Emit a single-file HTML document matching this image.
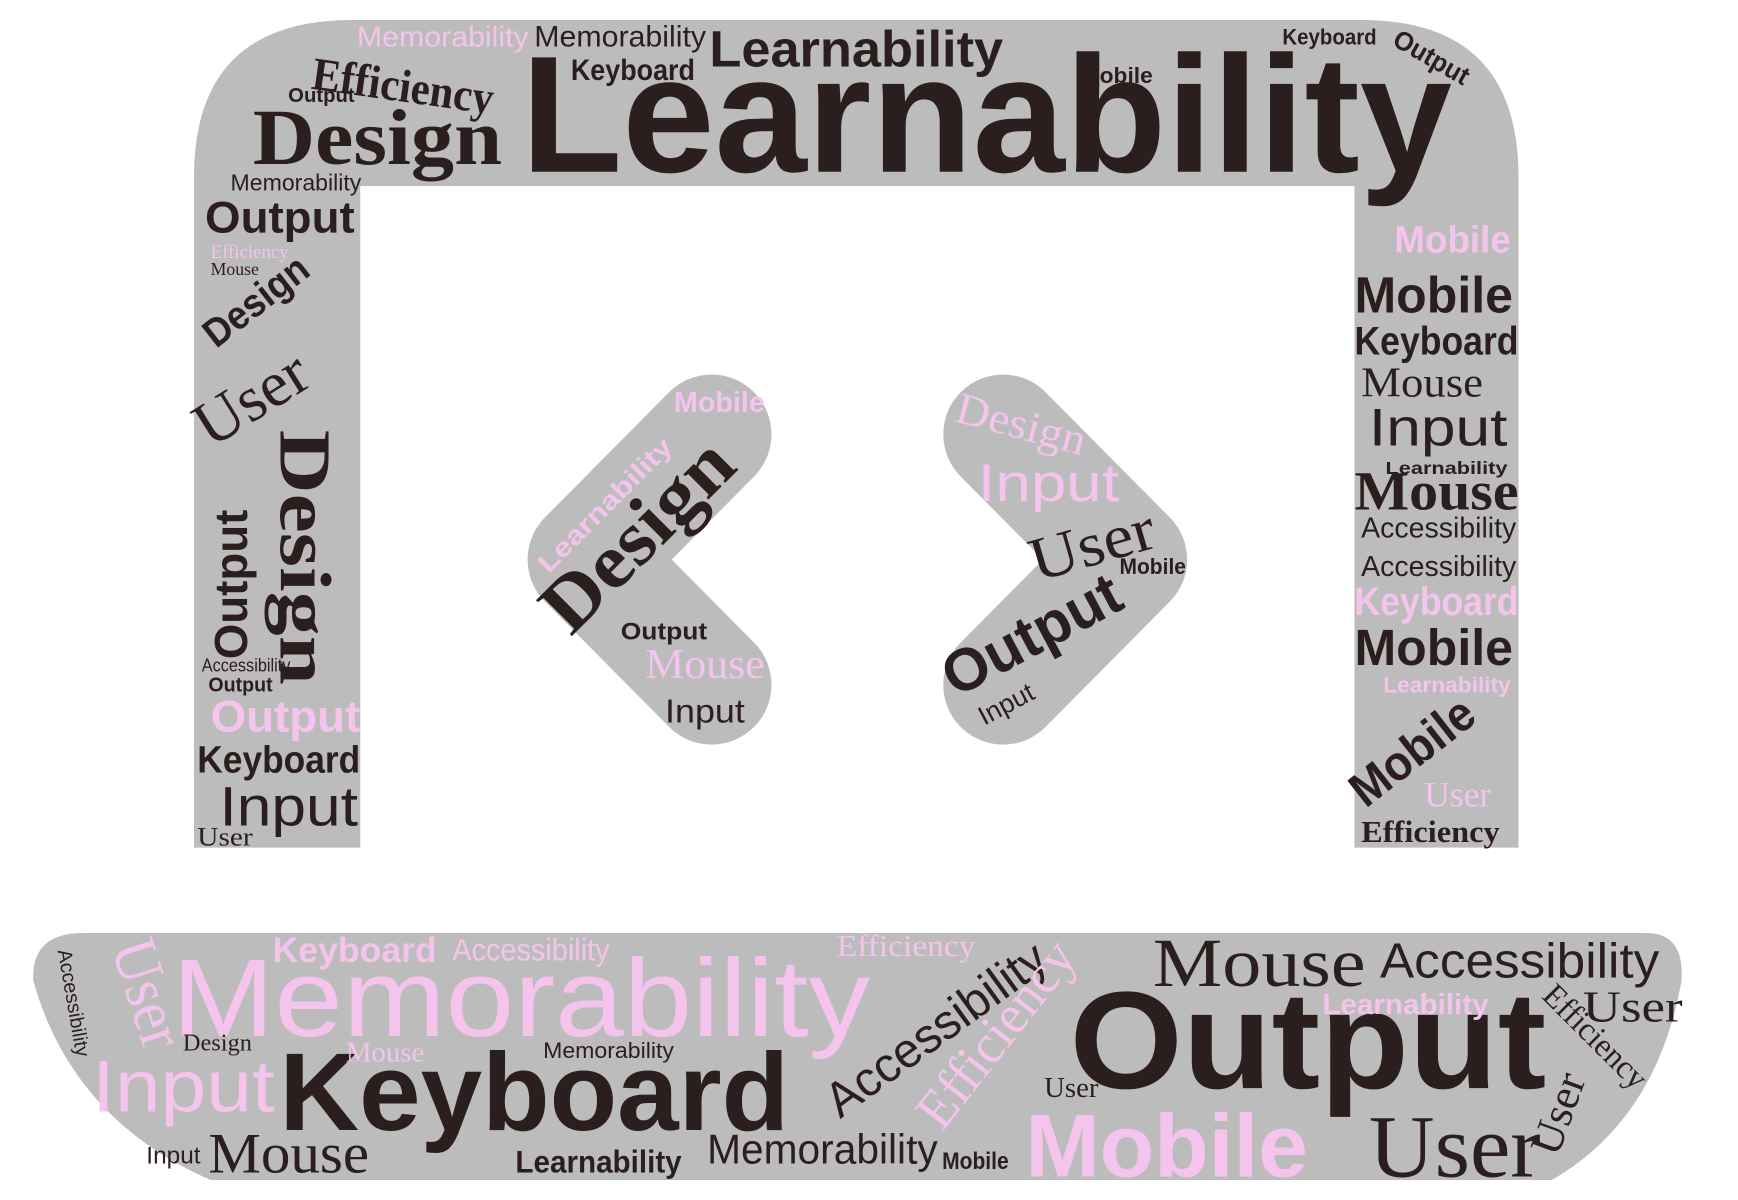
<!DOCTYPE html>
<html><head><meta charset="utf-8"><style>
html,body{margin:0;padding:0;background:#fff;width:1738px;height:1200px;overflow:hidden}
svg{display:block}
.s{font-family:"Liberation Sans",sans-serif}
.b{font-family:"Liberation Sans",sans-serif;font-weight:bold}
.r{font-family:"Liberation Serif",serif}
.rb{font-family:"Liberation Serif",serif;font-weight:bold}
.d{fill:#2b1e1e}.p{fill:#f4c4ec}
</style></head><body>
<svg width="1738" height="1200" viewBox="0 0 1568 1083" preserveAspectRatio="none">
<path fill="#bdbcbc" d="M175,765 L175,160 Q175,18 318,18 L1228,18 Q1370,18 1370,160 L1370,765 L1222,765 L1222,168 L325,168 L325,765 Z"/>
<polyline points="642,392 530,505 642,618" fill="none" stroke="#bdbcbc" stroke-width="108" stroke-linecap="round" stroke-linejoin="round"/>
<polyline points="905,392 1017,505 905,618" fill="none" stroke="#bdbcbc" stroke-width="108" stroke-linecap="round" stroke-linejoin="round"/>
<path fill="#bdbcbc" d="M30,885 Q28,842 75,842 L1485,842 Q1520,842 1517,885 Q1495,1010 1400,1065 L190,1065 Q65,1010 30,885 Z"/>

<g>
<text class="b d" x="470" y="155" font-size="150" textLength="840" lengthAdjust="spacingAndGlyphs">Learnability</text>
<text class="rb d" x="228" y="148" font-size="72" textLength="225" lengthAdjust="spacingAndGlyphs">Design</text>
<text class="rb d" x="280" y="80" font-size="42" textLength="165" lengthAdjust="spacingAndGlyphs" transform="rotate(8 280 80)">Efficiency</text>
<text class="b d" x="640" y="60" font-size="46" textLength="265" lengthAdjust="spacingAndGlyphs">Learnability</text>
<text class="s p" x="322" y="42" font-size="26" textLength="155" lengthAdjust="spacingAndGlyphs">Memorability</text>
<text class="s d" x="482" y="42" font-size="27" textLength="155" lengthAdjust="spacingAndGlyphs">Memorability</text>
<text class="b d" x="515" y="72" font-size="27" textLength="112" lengthAdjust="spacingAndGlyphs">Keyboard</text>
<text class="b d" x="1157" y="40" font-size="20" textLength="85" lengthAdjust="spacingAndGlyphs">Keyboard</text>
<text class="b d" x="975" y="75" font-size="20" textLength="65" lengthAdjust="spacingAndGlyphs">Mobile</text>
<text class="b d" x="1255" y="40" font-size="24" textLength="75" lengthAdjust="spacingAndGlyphs" transform="rotate(30 1255 40)">Output</text>
<text class="s d" x="208" y="172" font-size="21" textLength="118" lengthAdjust="spacingAndGlyphs">Memorability</text>
<text class="b d" x="185" y="210" font-size="40" textLength="135" lengthAdjust="spacingAndGlyphs">Output</text>
<text class="b d" x="260" y="92" font-size="18" textLength="60" lengthAdjust="spacingAndGlyphs">Output</text>
</g>

<g>
<text class="r d" x="190" y="405" font-size="58" textLength="110" lengthAdjust="spacingAndGlyphs" transform="rotate(-32 190 405)">User</text>
<text class="b d" x="195" y="315" font-size="36" textLength="110" lengthAdjust="spacingAndGlyphs" transform="rotate(-38 195 315)">Design</text>
<text class="rb d" x="253" y="388" font-size="66" textLength="230" lengthAdjust="spacingAndGlyphs" transform="rotate(90 253 388)">Design</text>
<text class="b d" x="228" y="595" font-size="42" textLength="135" lengthAdjust="spacingAndGlyphs" transform="rotate(-90 228 595) translate(0 -5)">Output</text>
<text class="b p" x="190" y="660" font-size="40" textLength="135" lengthAdjust="spacingAndGlyphs">Output</text>
<text class="b d" x="178" y="697" font-size="34" textLength="147" lengthAdjust="spacingAndGlyphs">Keyboard</text>
<text class="s d" x="198" y="745" font-size="50" textLength="125" lengthAdjust="spacingAndGlyphs">Input</text>
<text class="r d" x="178" y="763" font-size="24" textLength="50" lengthAdjust="spacingAndGlyphs">User</text>
<text class="s d" x="182" y="606" font-size="17" textLength="80" lengthAdjust="spacingAndGlyphs">Accessibility</text>
<text class="b d" x="188" y="624" font-size="18" textLength="58" lengthAdjust="spacingAndGlyphs">Output</text>
<text class="r p" x="190" y="233" font-size="17">Efficiency</text>
<text class="r d" x="190" y="248" font-size="16">Mouse</text>
</g>

<g>
<text class="b p" x="1258" y="228" font-size="34" textLength="105" lengthAdjust="spacingAndGlyphs">Mobile</text>
<text class="b d" x="1222" y="282" font-size="46" textLength="143" lengthAdjust="spacingAndGlyphs">Mobile</text>
<text class="b d" x="1222" y="320" font-size="36" textLength="148" lengthAdjust="spacingAndGlyphs">Keyboard</text>
<text class="r d" x="1228" y="358" font-size="38" textLength="110" lengthAdjust="spacingAndGlyphs">Mouse</text>
<text class="s d" x="1235" y="402" font-size="48" textLength="125" lengthAdjust="spacingAndGlyphs">Input</text>
<text class="b d" x="1250" y="428" font-size="16" textLength="110" lengthAdjust="spacingAndGlyphs">Learnability</text>
<text class="rb d" x="1222" y="460" font-size="50" textLength="148" lengthAdjust="spacingAndGlyphs">Mouse</text>
<text class="s d" x="1228" y="485" font-size="26" textLength="140" lengthAdjust="spacingAndGlyphs">Accessibility</text>
<text class="s d" x="1228" y="520" font-size="26" textLength="140" lengthAdjust="spacingAndGlyphs">Accessibility</text>
<text class="b p" x="1222" y="555" font-size="36" textLength="148" lengthAdjust="spacingAndGlyphs">Keyboard</text>
<text class="b d" x="1222" y="600" font-size="46" textLength="143" lengthAdjust="spacingAndGlyphs">Mobile</text>
<text class="b p" x="1248" y="625" font-size="20" textLength="115" lengthAdjust="spacingAndGlyphs">Learnability</text>
<text class="b d" x="1232" y="730" font-size="44" textLength="130" lengthAdjust="spacingAndGlyphs" transform="rotate(-38 1232 730)">Mobile</text>
<text class="r p" x="1285" y="728" font-size="32">User</text>
<text class="rb d" x="1228" y="760" font-size="28" textLength="125" lengthAdjust="spacingAndGlyphs">Efficiency</text>
</g>

<g>
<text class="rb d" x="515" y="575" font-size="70" textLength="215" lengthAdjust="spacingAndGlyphs" transform="rotate(-45 515 575)">Design</text>
<text class="b p" x="495" y="518" font-size="24" textLength="160" lengthAdjust="spacingAndGlyphs" transform="rotate(-45 495 518)">Learnability</text>
<text class="b p" x="608" y="372" font-size="26" textLength="82" lengthAdjust="spacingAndGlyphs">Mobile</text>
<text class="b d" x="560" y="577" font-size="22" textLength="78" lengthAdjust="spacingAndGlyphs">Output</text>
<text class="r p" x="582" y="612" font-size="38" textLength="108" lengthAdjust="spacingAndGlyphs">Mouse</text>
<text class="s d" x="600" y="652" font-size="30" textLength="72" lengthAdjust="spacingAndGlyphs">Input</text>
<text class="r p" x="860" y="380" font-size="40" textLength="120" lengthAdjust="spacingAndGlyphs" transform="rotate(15 860 380)">Design</text>
<text class="s p" x="882" y="452" font-size="48" textLength="128" lengthAdjust="spacingAndGlyphs">Input</text>
<text class="r d" x="935" y="525" font-size="56" textLength="115" lengthAdjust="spacingAndGlyphs" transform="rotate(-16 935 525)">User</text>
<text class="b d" x="1010" y="518" font-size="20" textLength="60" lengthAdjust="spacingAndGlyphs">Mobile</text>
<text class="b d" x="862" y="630" font-size="54" textLength="175" lengthAdjust="spacingAndGlyphs" transform="rotate(-28 862 630)">Output</text>
<text class="s d" x="888" y="655" font-size="24" transform="rotate(-28 888 655)">Input</text>
</g>

<g>
<text class="s p" x="155" y="935" font-size="100" textLength="630" lengthAdjust="spacingAndGlyphs">Memorability</text>
<text class="b d" x="252" y="1020" font-size="100" textLength="460" lengthAdjust="spacingAndGlyphs">Keyboard</text>
<text class="b d" x="965" y="982" font-size="125" textLength="430" lengthAdjust="spacingAndGlyphs">Output</text>
<text class="b p" x="925" y="1062" font-size="80" textLength="255" lengthAdjust="spacingAndGlyphs">Mobile</text>
<text class="r d" x="1235" y="1062" font-size="80" textLength="155" lengthAdjust="spacingAndGlyphs">User</text>
<text class="r d" x="1040" y="890" font-size="62" textLength="192" lengthAdjust="spacingAndGlyphs">Mouse</text>
<text class="s d" x="1245" y="882" font-size="44" textLength="252" lengthAdjust="spacingAndGlyphs">Accessibility</text>
<text class="b p" x="246" y="868" font-size="32" textLength="148" lengthAdjust="spacingAndGlyphs">Keyboard</text>
<text class="s p" x="408" y="867" font-size="28" textLength="142" lengthAdjust="spacingAndGlyphs">Accessibility</text>
<text class="s p" x="83" y="1003" font-size="66" textLength="165" lengthAdjust="spacingAndGlyphs">Input</text>
<text class="r d" x="188" y="1058" font-size="52" textLength="145" lengthAdjust="spacingAndGlyphs">Mouse</text>
<text class="s d" x="132" y="1050" font-size="22">Input</text>
<text class="b d" x="465" y="1058" font-size="28" textLength="150" lengthAdjust="spacingAndGlyphs">Learnability</text>
<text class="s d" x="638" y="1050" font-size="38" textLength="208" lengthAdjust="spacingAndGlyphs">Memorability</text>
<text class="b d" x="850" y="1055" font-size="22" textLength="60" lengthAdjust="spacingAndGlyphs">Mobile</text>
<text class="s d" x="758" y="1010" font-size="44" textLength="235" lengthAdjust="spacingAndGlyphs" transform="rotate(-36 758 1010)">Accessibility</text>
<text class="r p" x="850" y="1022" font-size="50" textLength="200" lengthAdjust="spacingAndGlyphs" transform="rotate(-52 850 1022)">Efficiency</text>
<text class="b p" x="1193" y="915" font-size="26" textLength="150" lengthAdjust="spacingAndGlyphs">Learnability</text>
<text class="r d" x="1428" y="922" font-size="40" textLength="90" lengthAdjust="spacingAndGlyphs">User</text>
<text class="r p" x="755" y="863" font-size="28" textLength="125" lengthAdjust="spacingAndGlyphs">Efficiency</text>
<text class="r d" x="1390" y="900" font-size="30" textLength="120" lengthAdjust="spacingAndGlyphs" transform="rotate(45 1390 900)">Efficiency</text>
<text class="r p" x="100" y="855" font-size="58" textLength="100" lengthAdjust="spacingAndGlyphs" transform="rotate(72 100 855)">User</text>
<text class="s d" x="490" y="955" font-size="20" textLength="118" lengthAdjust="spacingAndGlyphs">Memorability</text>
<text class="r d" x="165" y="948" font-size="22">Design</text>
<text class="r p" x="312" y="958" font-size="26">Mouse</text>
<text class="r d" x="942" y="990" font-size="26">User</text>
<text class="s d" x="52" y="858" font-size="18" transform="rotate(80 52 858)">Accessibility</text>
<text class="r d" x="1405" y="1045" font-size="40" transform="rotate(-70 1405 1045)">User</text>
</g>
</svg>
</body></html>
